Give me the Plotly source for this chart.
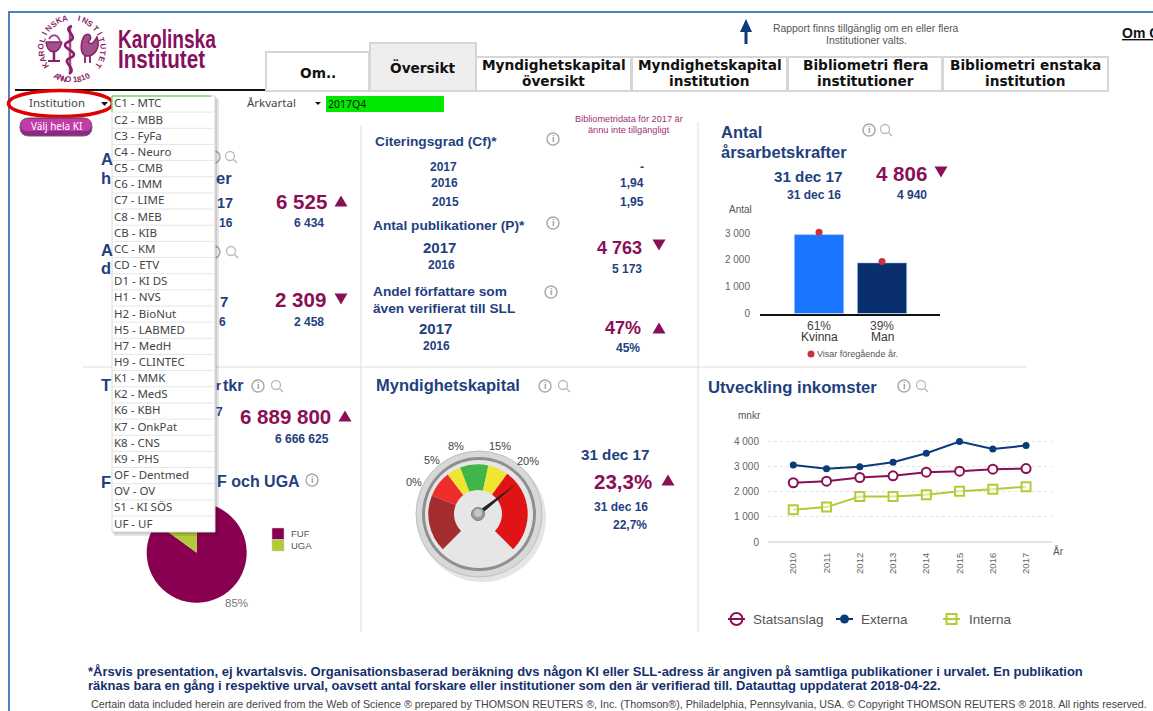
import math
import numpy as np
import plotly.graph_objects as go

W, H = 1153, 711
NAVY = "#1f3f80"
PURPLE = "#8a0f56"
GREY = "#555555"
SANS = "Liberation Sans"
TAHOMA = "Noto Sans"

# ---------- data ----------
institutions = ["C1 - MTC", "C2 - MBB", "C3 - FyFa", "C4 - Neuro", "C5 - CMB", "C6 - IMM", "C7 - LIME",
                "C8 - MEB", "CB - KIB", "CC - KM", "CD - ETV", "D1 - KI DS", "H1 - NVS", "H2 - BioNut",
                "H5 - LABMED", "H7 - MedH", "H9 - CLINTEC", "K1 - MMK", "K2 - MedS", "K6 - KBH", "K7 - OnkPat",
                "K8 - CNS", "K9 - PHS", "OF - Dentmed", "OV - OV", "S1 - KI SÖS", "UF - UF"]
tabs = ["Om..", "Översikt", "Myndighetskapital|översikt", "Myndighetskapital|institution",
        "Bibliometri flera|institutioner", "Bibliometri enstaka|institution"]

years = [2010, 2011, 2012, 2013, 2014, 2015, 2016, 2017]
series_names = ["Statsanslag", "Externa", "Interna"]
statsanslag = [2360, 2425, 2570, 2635, 2780, 2820, 2900, 2925]
externa = [3070, 2915, 2995, 3180, 3535, 4000, 3710, 3840]
interna = [1285, 1390, 1815, 1815, 1880, 2025, 2105, 2200]
series_colors = ["#8a0f56", "#0b3a7a", "#b4cb35"]

gender = ["Kvinna", "Man"]
gender_share = ["61%", "39%"]
gender_now = [2940, 1885]
gender_prev = [3030, 1935]

pie_labels = ["FUF", "UGA"]
pie_values = [85, 15]
pie_colors = ["#8a0050", "#b2ca37"]

gauge_ticks = [0, 5, 8, 15, 20]
gauge_tick_labels = ["0%", "5%", "8%", "15%", "20%"]
gauge_angles = [-135, -68, -37.6, -21, 12, 36, 135]
gauge_colors = ["#a32c2c", "#ee2c2c", "#f0e631", "#3fb54a", "#f0e631", "#e01414"]
needle_value = 23.3

# ---------- helpers ----------
def px(x): return x / W
def py(y): return 1 - y / H

annotations, shapes = [], []

def T(x, y, text, size=12, color=NAVY, bold=False, anchor="left", font=SANS, angle=0, valign="middle"):
    if anchor == "left":
        x -= 1
    annotations.append(dict(xref="paper", yref="paper", x=px(x), y=py(y), text=f"<b>{text}</b>" if bold else text,
                            showarrow=False, xanchor=anchor, yanchor=valign, borderpad=0, textangle=angle,
                            font=dict(family=font, size=size, color=color)))

def rect(x0, y0, x1, y1, fill=None, line=None, lw=1, layer="above"):
    shapes.append(dict(type="rect", xref="paper", yref="paper", x0=px(x0), x1=px(x1), y0=py(y1), y1=py(y0),
                       fillcolor=fill or "rgba(0,0,0,0)", layer=layer,
                       line=dict(color=line or "rgba(0,0,0,0)", width=lw if line else 0)))

def seg(x0, y0, x1, y1, color="#dddddd", lw=1, layer="above"):
    shapes.append(dict(type="line", xref="paper", yref="paper", x0=px(x0), x1=px(x1), y0=py(y0), y1=py(y1),
                       layer=layer, line=dict(color=color, width=lw)))

def circ(cx, cy, rx, ry=None, fill=None, line=None, lw=1, layer="above"):
    ry = rx if ry is None else ry
    shapes.append(dict(type="circle", xref="paper", yref="paper", x0=px(cx - rx), x1=px(cx + rx),
                       y0=py(cy + ry), y1=py(cy - ry), fillcolor=fill or "rgba(0,0,0,0)", layer=layer,
                       line=dict(color=line or "rgba(0,0,0,0)", width=lw if line else 0)))

def path(points, fill=None, line=None, lw=1, close=True, layer="above"):
    d = "M " + " L ".join(f"{px(a):.5f},{py(b):.5f}" for a, b in points) + (" Z" if close else "")
    shapes.append(dict(type="path", xref="paper", yref="paper", path=d, fillcolor=fill or "rgba(0,0,0,0)", layer=layer,
                       line=dict(color=line or "rgba(0,0,0,0)", width=lw if line else 0)))

def curve(d_points, line=None, lw=1.5, fill=None):
    d = " ".join(c + " " + " ".join(f"{px(a):.5f},{py(b):.5f}" for a, b in pts) for c, pts in d_points)
    shapes.append(dict(type="path", xref="paper", yref="paper", path=d, layer="above",
                       fillcolor=fill or "rgba(0,0,0,0)",
                       line=dict(color=line or "rgba(0,0,0,0)", width=lw if line else 0)))

def pill(x0, y0, x1, y1, fill, line=None, lw=1):
    r = (y1 - y0) / 2
    curve([("M", [(x0 + r, y0)]), ("L", [(x1 - r, y0)]), ("Q", [(x1, y0), (x1, y0 + r)]),
           ("Q", [(x1, y1), (x1 - r, y1)]), ("L", [(x0 + r, y1)]), ("Q", [(x0, y1), (x0, y0 + r)]),
           ("Q", [(x0, y0), (x0 + r, y0)])], line=line, lw=lw, fill=fill)

def tri(cx, cy, up=True, s=6.5, color=PURPLE):
    if up:
        path([(cx - s, cy + s * .85), (cx + s, cy + s * .85), (cx, cy - s * .85)], fill=color)
    else:
        path([(cx - s, cy - s * .85), (cx + s, cy - s * .85), (cx, cy + s * .85)], fill=color)

def info(cx, cy, glyph=True):
    circ(cx, cy, 6, line="#aaaaaa", lw=1.5)
    if glyph:
        T(cx, cy, "i", size=9, color="#999999", bold=True, anchor="center")

def mag(cx, cy):
    circ(cx - 1, cy - 1, 4.5, line="#bbbbbb", lw=1.3)
    seg(cx + 2.5, cy + 2.5, cx + 6, cy + 6, color="#bbbbbb", lw=1.5)

# ---------- frame ----------
seg(8, 12, W, 12, color="#4f81bd", lw=2)
seg(9, 12, 9, H, color="#4f81bd", lw=2)

# ---------- logo ----------
SEAL_X, SEAL_Y, SEAL_R = 72, 49, 31
seal_top = "KAROLINSKA INSTITUTET"
for i, ch in enumerate(seal_top):
    a = -122 + i * (244 / (len(seal_top) - 1))
    r = math.radians(a)
    if ch != " ":
        T(SEAL_X + SEAL_R * math.sin(r), SEAL_Y - SEAL_R * math.cos(r), ch, size=8, color="#8a1f6a", bold=True,
          anchor="center", angle=a)
seal_bottom = "ANNO 1810"
for i, ch in enumerate(seal_bottom):
    a = 209 - i * (58 / (len(seal_bottom) - 1))
    r = math.radians(a)
    if ch != " ":
        T(SEAL_X + SEAL_R * math.sin(r), SEAL_Y - SEAL_R * math.cos(r), ch, size=8, color="#8a1f6a", bold=True,
          anchor="center", angle=a - 180)
# staff with snake
seg(70, 26, 70, 72, color="#a2508a", lw=2.5)
curve([("M", [(72, 26)]), ("C", [(60, 30), (82, 36), (68, 42)]), ("C", [(56, 48), (84, 52), (70, 58)]),
       ("C", [(60, 62), (78, 68), (69, 74)])], "#8a1f6a", 2.6)
# bowl
curve([("M", [(46, 42)]), ("C", [(47, 54), (58, 56), (62, 42)])], "#8a1f6a", lw=1.5, fill="#a2508a")
seg(46, 42, 62, 42, color="#8a1f6a", lw=1.5)
seg(54, 52, 54, 60, color="#8a1f6a", lw=2.5)
seg(48, 61, 60, 61, color="#8a1f6a", lw=2)
curve([("M", [(49, 39)]), ("C", [(53, 33), (58, 35), (60, 41)])], "#a2508a", 2)
# rooster
curve([("M", [(84, 36)]), ("C", [(90, 31), (93, 38), (88, 42)]), ("C", [(92, 46), (94, 42), (97, 37)]),
       ("C", [(101, 48), (94, 57), (86, 56)]), ("C", [(80, 54), (80, 44), (84, 36)])], "#8a1f6a", 1.5, fill="#a2508a")
seg(85, 56, 85, 63, color="#8a1f6a", lw=1.8)
seg(90, 56, 90, 63, color="#8a1f6a", lw=1.8)
T(118, 39, "Karolinska", size=25, color="#860f5e", bold=True)
T(118, 59, "Institutet", size=25, color="#860f5e", bold=True)

# ---------- tabs ----------
seg(15, 90, 266, 90, color="#111111", lw=2)
tab_edges = [(266, 52, 369), (370, 43, 476), (476, 57, 631), (632, 57, 787), (788, 57, 942), (943, 57, 1108)]
for (x0, top, x1), label in zip(tab_edges, tabs):
    rect(x0, top, x1, 91, fill="#eeeeee" if label == "Översikt" else "#ffffff", line="#d6d6d6", lw=2)
    mid = (x0 + x1) / 2
    parts = label.split("|")
    if len(parts) == 2:
        T(mid, 65, parts[0], size=13.7, color="#111111", bold=True, anchor="center", font="DejaVu Sans")
        T(mid, 81, parts[1], size=13.7, color="#111111", bold=True, anchor="center", font="DejaVu Sans")
    else:
        T(mid, (top + 91) / 2 + (1 if label == "Om.." else 0), label, size=13.7, color="#111111", bold=True,
          anchor="center", font="DejaVu Sans")

# top right
path([(746, 19), (752, 32), (747.5, 32), (747.5, 44), (744.5, 44), (744.5, 32), (740, 32)], fill="#0f3a7a")
T(866, 28, "Rapport finns tillgänglig om en eller flera", size=10.4, color=GREY, anchor="center")
T(866, 40, "Institutioner valts.", size=10.4, color=GREY, anchor="center")
T(1122, 33, "<u>Om C</u>", size=14, color="#111111", bold=True)

# ---------- selectors ----------
T(29, 103, "Institution", size=11.5, color="#444444", font=TAHOMA)
path([(101, 102), (108, 102), (104.5, 106)], fill="#111111")
circ(60.5, 103.5, 52, 13, line="#e00000", lw=3.5)
pill(20, 118, 92, 136, "#8a2a80", line="#6d5a70", lw=1)
pill(21, 119, 91, 131, "#c23ba6")
T(56, 126, "Välj hela KI", size=10, color="#ffffff", anchor="center", font=TAHOMA)
T(247, 103, "Årkvartal", size=11.5, color="#444444", font=TAHOMA)
path([(315, 102), (321, 102), (318, 105)], fill="#111111")
rect(326, 96, 444, 112, fill="#00e800")
T(328, 103.5, "2017Q4", size=10.5, color="#111111", font=TAHOMA)

# ---------- dividers ----------
seg(361, 125, 361, 632)
seg(698, 122, 698, 632)
seg(83, 367, 1027, 367)

# ---------- left column ----------
info(214, 157, glyph=False); mag(231, 157)
T(101, 159, "A", size=16.5, bold=True)
T(101, 178, "h", size=16.5, bold=True)
T(216, 178, "er", size=16.5, bold=True)
T(217, 203, "17", size=14.5, bold=True)
T(219, 223, "16", size=12, bold=True)
T(301, 202, "6 525", size=20.5, color=PURPLE, bold=True, anchor="center")
tri(341, 201)
T(309, 223, "6 434", size=12, bold=True, anchor="center")

info(214, 252, glyph=False); mag(232, 252)
T(101, 250, "A", size=16.5, bold=True)
T(101, 268, "d", size=16.5, bold=True)
T(220, 301, "7", size=15, bold=True)
T(219, 322, "6", size=12, bold=True)
T(300, 300, "2 309", size=20.5, color=PURPLE, bold=True, anchor="center")
tri(341, 299, up=False)
T(309, 322, "2 458", size=12, bold=True, anchor="center")

info(258, 386); mag(277, 386)
T(101, 385, "T", size=16.5, bold=True)
T(216, 385, "r", size=13, bold=True)
T(223, 385, "tkr", size=16, bold=True)
T(216, 412, "7", size=12, bold=True)
T(285, 416, "6 889 800", size=20.5, color=PURPLE, bold=True, anchor="center")
tri(345, 416)
T(302, 439, "6 666 625", size=12, bold=True, anchor="center")

info(312, 480)
T(101, 482, "F", size=16.5, bold=True)
T(217, 481, "F och UGA", size=16, bold=True)
for i, (lab, col) in enumerate(zip(pie_labels, pie_colors)):
    rect(272, 528 + i * 11.5, 284, 539.5 + i * 11.5, fill=col, line="#cccccc", lw=0.5)
    T(291, 533.5 + i * 11.5, lab, size=9.5, color=GREY)
T(236, 603, f"{pie_values[0]}%", size=11.5, color="#777777", anchor="center")

# ---------- middle column ----------
T(629, 119, "Bibliometridata för 2017 är", size=9.2, color="#a0306e", anchor="center")
T(629, 130, "ännu inte tillgängligt", size=9.2, color="#a0306e", anchor="center")
T(375, 142, "Citeringsgrad (Cf)*", size=13.7, bold=True)
info(553, 139)
for y, cx, yr, val in zip([167, 183, 202], [443, 444, 445], ["2017", "2016", "2015"], ["-", "1,94", "1,95"]):
    T(cx, y, yr, size=12, bold=True, anchor="center")
    T(645, y, val, size=12, bold=True, anchor="right")
T(373, 225, "Antal publikationer (P)*", size=13.7, bold=True)
info(553, 223)
T(439, 247, "2017", size=15, bold=True, anchor="center")
T(441, 265, "2016", size=12, bold=True, anchor="center")
T(643, 248, "4 763", size=18, color=PURPLE, bold=True, anchor="right")
tri(659, 245, up=False)
T(643, 269, "5 173", size=12, bold=True, anchor="right")
T(373, 292, "Andel författare som", size=13.7, bold=True)
T(373, 308, "även verifierat till SLL", size=13.7, bold=True)
info(551, 292)
T(435, 328, "2017", size=15, bold=True, anchor="center")
T(436, 346, "2016", size=12, bold=True, anchor="center")
T(642, 328, "47%", size=18, color=PURPLE, bold=True, anchor="right")
tri(659, 328)
T(641, 348, "45%", size=12, bold=True, anchor="right")

T(376, 385, "Myndighetskapital", size=16.5, bold=True)
info(545, 386); mag(564, 386)

# gauge
GX, GY, GR = 478, 514, 49.7
circ(482, 518, 64, fill="rgba(0,0,0,0.10)", layer="below")
circ(479, 514, 63, fill="#d8d8d8", line="#bdbdbd", lw=1, layer="below")
circ(479, 514, 57, fill="#8f8f8f", layer="below")
circ(479, 514, 54, fill="#e6e6e6", layer="below")
for x, y, lab in zip([414, 432, 456, 500, 528], [482, 460, 446, 446, 461], gauge_tick_labels):
    T(x, y, lab, size=11, color="#444444", anchor="center")
tick_a = gauge_angles[1:6]
needle_a = math.radians(tick_a[-1] + (needle_value - gauge_ticks[-1]) * (tick_a[-1] - tick_a[-2]) / (gauge_ticks[-1] - gauge_ticks[-2]))
ux, uy = math.sin(needle_a), -math.cos(needle_a)
path([(GX + 50 * ux, GY + 50 * uy), (GX - 2.2 * uy, GY + 2.2 * ux), (GX + 2.2 * uy, GY - 2.2 * ux)], fill="#222222")
circ(GX, GY, 6.5, fill="#9a9a9a", line="#808080", lw=1)
circ(GX, GY - 1, 4, fill="#c4c4c4")
T(615, 454, "31 dec 17", size=15.2, bold=True, anchor="center")
T(623, 481, "23,3%", size=20.5, color=PURPLE, bold=True, anchor="center")
tri(668, 480)
T(649, 507, "31 dec 16", size=12, bold=True, anchor="right")
T(648, 525, "22,7%", size=12, bold=True, anchor="right")

# ---------- right column ----------
T(721, 132, "Antal", size=16.5, bold=True)
T(721, 152, "årsarbetskrafter", size=16.5, bold=True)
info(869, 130); mag(886, 130)
T(843, 176, "31 dec 17", size=15.2, bold=True, anchor="right")
T(842, 195, "31 dec 16", size=12, bold=True, anchor="right")
T(901, 173, "4 806", size=20.5, color=PURPLE, bold=True, anchor="center")
tri(941, 172, up=False)
T(912, 195, "4 940", size=12, bold=True, anchor="center")
T(740, 209, "Antal", size=10, color=GREY, anchor="center")
for cx, g in zip([819, 882], gender):
    T(cx, 337, g, size=12, color="#333333", anchor="center")
circ(811, 354, 3.5, fill="#c8323c")
T(817, 354, "Visar föregående år.", size=9, color=GREY)

T(708, 387, "Utveckling inkomster", size=16.7, bold=True)
info(904, 386); mag(922, 386)
T(738, 415, "mnkr", size=10, color=GREY)
T(1053, 551, "År", size=10, color=GREY)

# custom legend for the income chart
LEG = [(728, 753), (836, 861), (943, 969)]
for (x0, xt), name, col in zip(LEG, series_names, series_colors):
    seg(x0, 619, x0 + 17, 619, color=col, lw=2)
    if name == "Statsanslag":
        circ(x0 + 8.5, 619, 6, fill="#ffffff", line=col, lw=2)
        seg(x0, 619, x0 + 17, 619, color=col, lw=2)
    elif name == "Externa":
        circ(x0 + 8.5, 619, 4.5, fill=col)
    else:
        rect(x0 + 3.5, 614, x0 + 13.5, 624, fill="#ffffff", line=col, lw=2)
        seg(x0 + 3, 619, x0 + 14, 619, color=col, lw=2)
    T(xt, 619, name, size=13.5, color=GREY)

# ---------- footer ----------
F_COL = "#16306e"
T(88, 671, "*Årsvis presentation, ej kvartalsvis. Organisationsbaserad beräkning dvs någon KI eller SLL-adress är angiven på samtliga publikationer i urvalet. En publikation",
  size=13, color=F_COL, bold=True)
T(88, 685, "räknas bara en gång i respektive urval, oavsett antal forskare eller institutioner som den är verifierad till. Datauttag uppdaterat 2018-04-22.",
  size=13, color=F_COL, bold=True)
T(91, 704, "Certain data included herein are derived from the Web of Science ® prepared by THOMSON REUTERS ®, Inc. (Thomson®), Philadelphia, Pennsylvania, USA. © Copyright THOMSON REUTERS ® 2018. All rights reserved.",
  size=10.7, color="#444444")

# ---------- dropdown (drawn over everything before it) ----------
rect(114, 99, 219, 536, fill="rgba(0,0,0,0.10)")
rect(113, 97, 217, 534, fill="rgba(0,0,0,0.12)")
rect(112, 96, 215, 532, fill="#ffffff", line="#d8d8d8", lw=1)
seg(112, 96, 211, 96, color="#33dd33", lw=1)
seg(112, 96, 112, 112, color="#33dd33", lw=1)
for i, name in enumerate(institutions):
    y = 104 + i * 16.154
    if i:
        seg(113, y - 8, 214, y - 8, color="#e6e6e6", lw=1)
    T(114, y - 1, name, size=11.5, color="#444444", font=TAHOMA)

# ---------- figure ----------
fig = go.Figure()

# pie
fig.add_trace(go.Pie(labels=pie_labels, values=pie_values, sort=False, direction="clockwise", rotation=0,
                     marker=dict(colors=pie_colors, line=dict(width=0)), textinfo="none", showlegend=False,
                     domain=dict(x=[px(146.7), px(246.7)], y=[py(602.7), py(502.7)])))

# gauge dial
gauge_spans = list(np.diff(gauge_angles)) + [360 - (gauge_angles[-1] - gauge_angles[0])]
fig.add_trace(go.Pie(values=gauge_spans, sort=False, direction="clockwise", rotation=gauge_angles[0],
                     marker=dict(colors=gauge_colors + ["rgba(0,0,0,0)"], line=dict(width=0)),
                     hole=24 / GR, textinfo="none", showlegend=False, hoverinfo="skip",
                     domain=dict(x=[px(GX - GR), px(GX + GR)], y=[py(GY + GR), py(GY - GR)])))

# income lines
marks = [dict(symbol="circle", size=9, color="#ffffff", line=dict(color=series_colors[0], width=2)),
         dict(symbol="circle", size=7, color=series_colors[1]),
         dict(symbol="square", size=9, color="rgba(255,255,255,0.55)", line=dict(color=series_colors[2], width=2))]
for name, vals, col, mk in zip(series_names, [statsanslag, externa, interna], series_colors, marks):
    fig.add_trace(go.Scatter(x=years, y=vals, name=name, mode="lines+markers", line=dict(color=col, width=2),
                             marker=mk, showlegend=False))

# gender bars
fig.add_trace(go.Bar(x=gender, y=gender_now, xaxis="x2", yaxis="y2", width=0.78, showlegend=False,
                     marker=dict(color=["#1a75ff", "#0a2f6e"], line=dict(color="#8fbcff", width=0.5))))
fig.add_trace(go.Scatter(x=gender, y=gender_prev, xaxis="x2", yaxis="y2", mode="markers", showlegend=False,
                         marker=dict(color="#c8323c", size=7)))

tick_font = dict(family=SANS, size=10, color="#666666")
fig.update_layout(
    width=W, height=H, margin=dict(l=0, r=0, t=0, b=0, autoexpand=False), autosize=False,
    paper_bgcolor="#ffffff", plot_bgcolor="rgba(0,0,0,0)", separators=", ",
    font=dict(family=SANS), showlegend=False,
    annotations=annotations, shapes=shapes,
    xaxis=dict(domain=[px(768), px(1052)], range=[2009.24, 2017.78], tickvals=years, tickangle=-90,
               showgrid=False, zeroline=False, showline=False, tickfont=dict(family=SANS, size=9.5, color="#666666"),
               ticks="outside", ticklen=6, tickcolor="rgba(0,0,0,0)"),
    yaxis=dict(domain=[py(542), py(430)], range=[0, 4462], tickvals=[0, 1000, 2000, 3000, 4000], tickformat=",d",
               showgrid=True, gridcolor="#e2e2e2", griddash="dot", zeroline=True, zerolinecolor="#e2e2e2",
               showline=False, tickfont=tick_font, ticks="outside", ticklen=6, tickcolor="rgba(0,0,0,0)"),
    xaxis2=dict(domain=[px(760), px(940)], range=[-0.937, 1.92], anchor="y2", tickmode="array", tickvals=gender,
                ticktext=gender_share, showgrid=False, zeroline=False,
                showline=True, linecolor="#111111", linewidth=2, ticks="", tickfont=dict(family=SANS, size=12, color="#444444")),
    yaxis2=dict(domain=[py(313.5), py(225)], range=[0, 3300], anchor="x2", tickvals=[0, 1000, 2000, 3000], tickformat=",d",
                showgrid=False, zeroline=False, showline=False, tickfont=tick_font,
                ticks="outside", ticklen=7, tickcolor="rgba(0,0,0,0)"),
)

post = """
document.body.style.margin='0';document.body.style.overflow='hidden';
document.querySelectorAll('.annotation-text').forEach(function(t){
  var s = t.textContent;
  if(s==='Karolinska' || s==='Institutet'){
    t.style.transformBox='fill-box';
    t.style.transformOrigin='left center';
    t.style.transform='scaleX('+(s==='Karolinska'?0.766:0.825)+')';
  }
});
"""
fig.write_html("out.html", config=dict(displayModeBar=False), post_script=post)
